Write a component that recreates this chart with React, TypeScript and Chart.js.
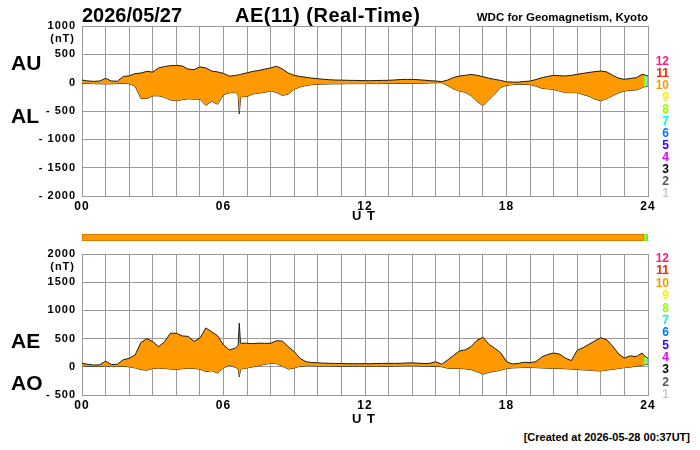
import React, { useEffect, useRef } from 'react';
import { Chart, registerables } from 'chart.js';

Chart.register(...registerables);

// ---------- data ----------
const HOURS = [0, 0.25, 0.5, 0.75, 1, 1.25, 1.5, 1.75, 2, 2.25, 2.5, 2.75, 3, 3.25, 3.5, 3.75, 4, 4.25, 4.5, 4.75, 5, 5.25, 5.5, 5.75, 6, 6.25, 6.5, 6.62, 6.67, 6.72, 6.75, 7, 7.25, 7.5, 7.75, 8, 8.25, 8.5, 8.75, 9, 9.25, 9.5, 9.75, 10, 10.25, 10.5, 10.75, 11, 11.25, 11.5, 11.75, 12, 12.25, 12.5, 12.75, 13, 13.25, 13.5, 13.75, 14, 14.25, 14.5, 14.75, 15, 15.25, 15.5, 15.75, 16, 16.25, 16.5, 16.75, 17, 17.25, 17.5, 17.75, 18, 18.25, 18.5, 18.75, 19, 19.25, 19.5, 19.75, 20, 20.25, 20.5, 20.75, 21, 21.25, 21.5, 21.75, 22, 22.25, 22.5, 22.75, 23, 23.25, 23.5, 23.75, 23.83, 23.93, 24];

const AU = [46, 30, 23, 30, 75, 30, 25, 110, 120, 160, 170, 200, 186, 261, 285, 300, 305, 295, 240, 230, 279, 260, 205, 190, 163, 116, 125, 140, 140, 145, 150, 174, 200, 215, 240, 261, 290, 240, 170, 128, 110, 95, 80, 70, 60, 52, 46, 45, 42, 40, 38, 35, 35, 38, 40, 42, 48, 55, 58, 58, 52, 45, 35, 29, 18, 46, 90, 116, 130, 145, 130, 105, 80, 58, 40, 15, 10, 10, 20, 29, 55, 88, 110, 129, 122, 118, 130, 147, 165, 180, 195, 206, 190, 130, 80, 59, 75, 88, 147, 140, 125, 120];

const AL = [-12, -15, -18, -20, -22, -20, -15, -12, -20, -60, -280, -280, -232, -232, -260, -305, -320, -300, -285, -290, -290, -400, -330, -380, -210, -180, -174, -220, -552, -270, -250, -244, -200, -185, -170, -145, -175, -225, -200, -116, -75, -50, -35, -29, -25, -22, -20, -20, -18, -17, -17, -17, -15, -17, -15, -15, -12, -12, -12, -12, -10, -8, -5, -2, 0, -50, -110, -145, -170, -230, -330, -407, -300, -200, -88, -47, -35, -29, -30, -35, -60, -100, -110, -118, -150, -176, -176, -176, -210, -240, -290, -320, -282, -230, -180, -147, -135, -129, -88, -75, -65, -59];

const AE = [60, 45, 30, 35, 100, 40, 45, 125, 149, 210, 430, 500, 446, 357, 446, 595, 595, 547, 540, 450, 506, 690, 620, 550, 387, 300, 330, 380, 774, 420, 417, 417, 410, 420, 415, 417, 464, 455, 357, 268, 150, 89, 75, 71, 65, 62, 60, 58, 55, 55, 55, 55, 55, 58, 60, 60, 60, 62, 68, 70, 65, 58, 62, 89, 45, 120, 200, 280, 300, 360, 470, 524, 400, 330, 250, 92, 50, 60, 80, 73, 92, 175, 220, 244, 225, 153, 110, 293, 340, 400, 460, 515, 480, 366, 230, 153, 195, 180, 244, 200, 170, 153];

const AO = [18, 12, 5, 5, 20, 5, 5, 10, 0, -20, -50, -60, -30, -25, -30, -40, -45, -35, -25, -30, -40, -85, -70, -110, -20, 30, -10, -30, -178, -50, -40, -20, 0, 20, 45, 60, 55, 10, -40, -20, 10, 20, 20, 15, 15, 15, 12, 12, 12, 12, 10, 10, 10, 10, 12, 12, 15, 18, 20, 20, 18, 15, 12, 12, 0, -25, -30, -30, -35, -50, -90, -131, -100, -80, -61, -30, -20, -15, -12, -12, -15, -20, -25, -30, -30, -35, -40, -49, -55, -60, -70, -73, -60, -45, -30, -15, -5, 10, 30, 35, 40, 43];

// station-count bar: [start hour, end hour]
const BAR_SEGMENTS = [[0, 23.83], [23.83, 23.93], [23.93, 24]];
const BAR_COLORS = ['#ff9900', '#99ff00', '#00ffcc'];

const STATION_LABELS = ['12', '11', '10', '9', '8', '7', '6', '5', '4', '3', '2', '1'];
const STATION_COLORS = ['#ff1a80', '#ff2200', '#ff9900', '#ffee00', '#99ff00', '#00ffcc', '#0077ff', '#3300ff', '#dd00ff', '#000000', '#555555', '#cccccc'];

// ---------- style ----------
const FONT = "'Liberation Sans', Arial, Helvetica, sans-serif";
const GRID = '#9a9a9a';
const LINE = '#1a1a1a';

const spacingPlugin = {
  id: 'letterSpacing',
  beforeDraw(chart: any) {
    try { chart.ctx.letterSpacing = '1px'; } catch (e) { /* ignore */ }
  },
};

function segColor(ctx: any) {
  const x = ctx.p0.parsed.x;
  for (let i = BAR_SEGMENTS.length - 1; i >= 0; i--) {
    if (x >= BAR_SEGMENTS[i][0] - 1e-6) return BAR_COLORS[i];
  }
  return BAR_COLORS[0];
}

function lineConfig(upper: number[], lower: number[], min: number, max: number, padTop: number, axisH: number): any {
  return {
    type: 'line',
    data: {
      datasets: [
        {
          data: HOURS.map((h, i) => ({ x: h, y: upper[i] })),
          borderColor: LINE,
          borderWidth: 1,
          pointRadius: 0,
          tension: 0,
          fill: '+1',
          backgroundColor: BAR_COLORS[0],
          segment: { backgroundColor: segColor },
        },
        {
          data: HOURS.map((h, i) => ({ x: h, y: lower[i] })),
          borderColor: LINE,
          borderWidth: 1,
          pointRadius: 0,
          tension: 0,
          fill: false,
        },
      ],
    },
    options: {
      animation: false,
      responsive: false,
      events: [],
      layout: { padding: { top: padTop, right: 52, left: 0, bottom: 0 } },
      plugins: { legend: { display: false }, tooltip: { enabled: false } },
      scales: {
        x: {
          type: 'linear',
          min: 0,
          max: 24,
          afterFit: (s: any) => { s.height = axisH; },
          grid: { color: GRID, lineWidth: 1, drawTicks: false },
          border: { color: GRID },
          ticks: {
            stepSize: 1,
            autoSkip: false,
            maxRotation: 0,
            padding: 3,
            color: '#000',
            font: { family: FONT, size: 12, weight: 'bold' },
            callback: (v: number) => (v % 6 === 0 ? String(v).padStart(2, '0') : ''),
          },
        },
        y: {
          min,
          max,
          afterFit: (s: any) => { s.width = 82; },
          grid: { color: GRID, lineWidth: 1, drawTicks: false },
          border: { color: GRID },
          ticks: {
            stepSize: 500,
            padding: 6,
            color: '#000',
            font: { family: FONT, size: 11, weight: 'bold' },
            callback: (v: number) => (v < 0 ? '- ' + Math.abs(v) : String(v)),
          },
        },
      },
    },
    plugins: [spacingPlugin],
  };
}

function barConfig(): any {
  return {
    type: 'bar',
    data: {
      labels: [''],
      datasets: BAR_SEGMENTS.map((seg, i) => ({
        data: [seg],
        backgroundColor: BAR_COLORS[i],
        borderColor: i === 0 ? '#c87400' : BAR_COLORS[i],
        borderWidth: i === 0 ? 1 : 0,
        borderSkipped: false,
        barPercentage: 1,
        categoryPercentage: 1,
        grouped: false,
      })),
    },
    options: {
      indexAxis: 'y',
      animation: false,
      responsive: false,
      events: [],
      layout: { padding: { left: 82, right: 52, top: 8, bottom: 5 } },
      plugins: { legend: { display: false }, tooltip: { enabled: false } },
      scales: {
        x: { type: 'linear', min: 0, max: 24, display: false },
        y: { display: false },
      },
    },
  };
}

const txt = (extra: React.CSSProperties): React.CSSProperties => ({
  position: 'absolute',
  fontFamily: FONT,
  fontWeight: 'bold',
  lineHeight: 1,
  whiteSpace: 'nowrap',
  color: '#000',
  ...extra,
});

export default function App() {
  const topRef = useRef<HTMLCanvasElement>(null);
  const barRef = useRef<HTMLCanvasElement>(null);
  const botRef = useRef<HTMLCanvasElement>(null);

  useEffect(() => {
    const charts: Chart[] = [];
    if (topRef.current) charts.push(new Chart(topRef.current, lineConfig(AU, AL, -2000, 1000, 26, 29)));
    if (barRef.current) charts.push(new Chart(barRef.current, barConfig()));
    if (botRef.current) charts.push(new Chart(botRef.current, lineConfig(AE, AO, -500, 2000, 24, 25)));
    return () => { charts.forEach((c) => c.destroy()); };
  }, []);

  return (
    <div style={{ position: 'fixed', left: 0, top: 0, width: 700, height: 450, background: '#fff', overflow: 'hidden' }}>
      <canvas ref={topRef} width={700} height={225} style={{ position: 'absolute', left: 0, top: 0, width: 700, height: 225 }} />
      <canvas ref={barRef} width={700} height={20} style={{ position: 'absolute', left: 0, top: 226, width: 700, height: 20 }} />
      <canvas ref={botRef} width={700} height={190} style={{ position: 'absolute', left: 0, top: 230, width: 700, height: 190 }} />

      <div style={txt({ left: 82, top: 5, fontSize: 20 })}>2026/05/27</div>
      <div style={txt({ left: 235, top: 5, fontSize: 20, letterSpacing: '0.5px' })}>AE(11) (Real-Time)</div>
      <div style={txt({ right: 52, top: 11.5, fontSize: 11.5 })}>WDC for Geomagnetism, Kyoto</div>

      <div style={txt({ left: 11, top: 52, fontSize: 21 })}>AU</div>
      <div style={txt({ left: 11, top: 105, fontSize: 21 })}>AL</div>
      <div style={txt({ left: 11, top: 330, fontSize: 21 })}>AE</div>
      <div style={txt({ left: 11, top: 372, fontSize: 21 })}>AO</div>

      <div style={txt({ right: 625, top: 33, fontSize: 11, letterSpacing: '1px' })}>(nT)</div>
      <div style={txt({ right: 625, top: 261, fontSize: 11, letterSpacing: '1px' })}>(nT)</div>

      <div style={txt({ left: 352, top: 208.5, fontSize: 13, letterSpacing: '1px' })}>U T</div>
      <div style={txt({ left: 352, top: 411.5, fontSize: 13, letterSpacing: '1px' })}>U T</div>

      {STATION_LABELS.map((s, i) => (
        <div key={'t' + s} style={txt({ right: 31, top: 61 + i * 12 - 5.9, fontSize: 12, color: STATION_COLORS[i] })}>{s}</div>
      ))}
      {STATION_LABELS.map((s, i) => (
        <div key={'b' + s} style={txt({ right: 31, top: 258 + i * 12.36 - 5.9, fontSize: 12, color: STATION_COLORS[i] })}>{s}</div>
      ))}

      <div style={txt({ right: 10, top: 431.5, fontSize: 11 })}>[Created at 2026-05-28 00:37UT]</div>
    </div>
  );
}
